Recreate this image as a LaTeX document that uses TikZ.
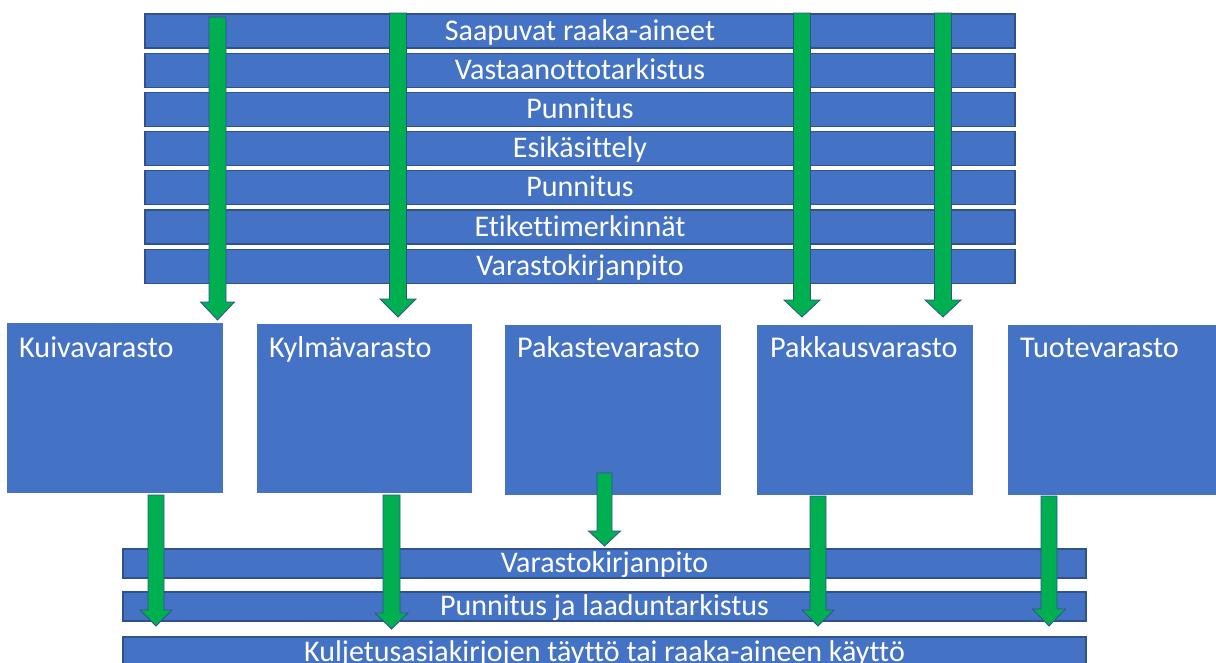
\documentclass[tikz,border=0pt]{standalone}
\usepackage{fontspec}
\setmainfont{Carlito}[Ligatures={NoCommon,NoRequired,NoContextual}]
\usetikzlibrary{calc}

\definecolor{boxblue}{HTML}{4472C4}
\definecolor{edgeblue}{HTML}{2F528F}
\definecolor{flowgreen}{HTML}{00B050}

\tikzset{
  bar/.style={draw=edgeblue, line width=1.3pt, fill=boxblue, text=white,
    inner sep=0pt, outer sep=0pt, font=\fontsize{30}{35}\selectfont,
    text height=18pt, text depth=0pt},
  store/.style={fill=boxblue, inner sep=0pt, outer sep=0pt, anchor=north west},
  storelabel/.style={text=white, anchor=base west, inner sep=0pt,
    font=\fontsize{30.2}{35}\selectfont},
  flow/.style={fill=flowgreen, draw=edgeblue, line width=0.8pt, line join=miter},
}

% Block arrow from coordinate #1 straight down to the tip #2;
% #3 head length, #4 half shaft width, #5 half head width
\newcommand\flowarrow[5]{%
  \filldraw[flow] let \p1=(#1), \p2=(#2) in
    (\x1-#4,\y1) -- (\x1+#4,\y1) -- (\x1+#4,\y2+#3) -- (\x1+#5,\y2+#3)
    -- (\x1,\y2) -- (\x1-#5,\y2+#3) -- (\x1-#4,\y2+#3) -- cycle;}

\begin{document}
\begin{tikzpicture}[x=1pt,y=-1pt]
\useasboundingbox (0,0) rectangle (1216,662);

% intake steps
\foreach \txt [count=\i] in {Saapuvat raaka-aineet, Vastaanottotarkistus,
    Punnitus, Esikäsittely, Punnitus, Etikettimerkinnät, Varastokirjanpito}
  \node[bar, minimum width=870pt, minimum height=34pt] (t\i)
    at (580,{31+39.2*(\i-1)}) {\txt};

% storages
\node[store, minimum width=216pt, minimum height=170pt] (kuiva)   at (7,323)    {};
\node[store, minimum width=215pt, minimum height=169pt] (kylma)   at (257,324)  {};
\node[store, minimum width=216pt, minimum height=170pt] (pakaste) at (505,325)  {};
\node[store, minimum width=216pt, minimum height=170pt] (pakkaus) at (757,325)  {};
\node[store, minimum width=210pt, minimum height=170pt] (tuote)   at (1008,325) {};

\node[storelabel] (kuiva-l)   at (19,357)   {Kuivavarasto};
\node[storelabel] (kylma-l)   at (269,357)  {Kylmävarasto};
\node[storelabel] (pakaste-l) at (517,357)  {Pakastevarasto};
\node[storelabel] (pakkaus-l) at (770,357)  {Pakkausvarasto};
\node[storelabel] (tuote-l)   at (1020,357) {Tuotevarasto};

% outgoing steps
\node[bar, minimum width=963pt, minimum height=29pt] (u1) at (604.5,563.5) {Varastokirjanpito};
\node[bar, minimum width=963pt, minimum height=29pt] (u2) at (604.5,606.5) {Punnitus ja laaduntarkistus};
\node[bar, minimum width=963pt, minimum height=30pt] (u3) at (604.5,652)
  {Kuljetusasiakirjojen täyttö tai raaka-aineen käyttö};

% arrow end points
\coordinate (a1s) at (217.5,17);  \coordinate (a1e) at (217.5,320);
\coordinate (a2s) at (398,13);    \coordinate (a2e) at (398,317);
\coordinate (a3s) at (802,13);    \coordinate (a3e) at (802,317);
\coordinate (a4s) at (943,13);    \coordinate (a4e) at (943,317);

\coordinate (b1s) at (156,495);    \coordinate (b1e) at (156,626);
\coordinate (b2s) at (391.5,495);  \coordinate (b2e) at (391.5,629);
\coordinate (b3s) at (604.5,473);  \coordinate (b3e) at (604.5,546);
\coordinate (b4s) at (818,496);    \coordinate (b4e) at (818,626);
\coordinate (b5s) at (1049,496);   \coordinate (b5e) at (1049,626);

% arrows into the storages
\flowarrow{a1s}{a1e}{18pt}{8.5pt}{17pt}
\flowarrow{a2s}{a2e}{18pt}{8.5pt}{18pt}
\flowarrow{a3s}{a3e}{17pt}{8.5pt}{18pt}
\flowarrow{a4s}{a4e}{17pt}{8.5pt}{18pt}

% arrows out of the storages
\flowarrow{b1s}{b1e}{16pt}{8pt}{16pt}
\flowarrow{b2s}{b2e}{16pt}{8.5pt}{16.5pt}
\flowarrow{b3s}{b3e}{15pt}{7.5pt}{16pt}
\flowarrow{b4s}{b4e}{16pt}{8pt}{16pt}
\flowarrow{b5s}{b5e}{17pt}{8pt}{16.5pt}
\end{tikzpicture}
\end{document}
